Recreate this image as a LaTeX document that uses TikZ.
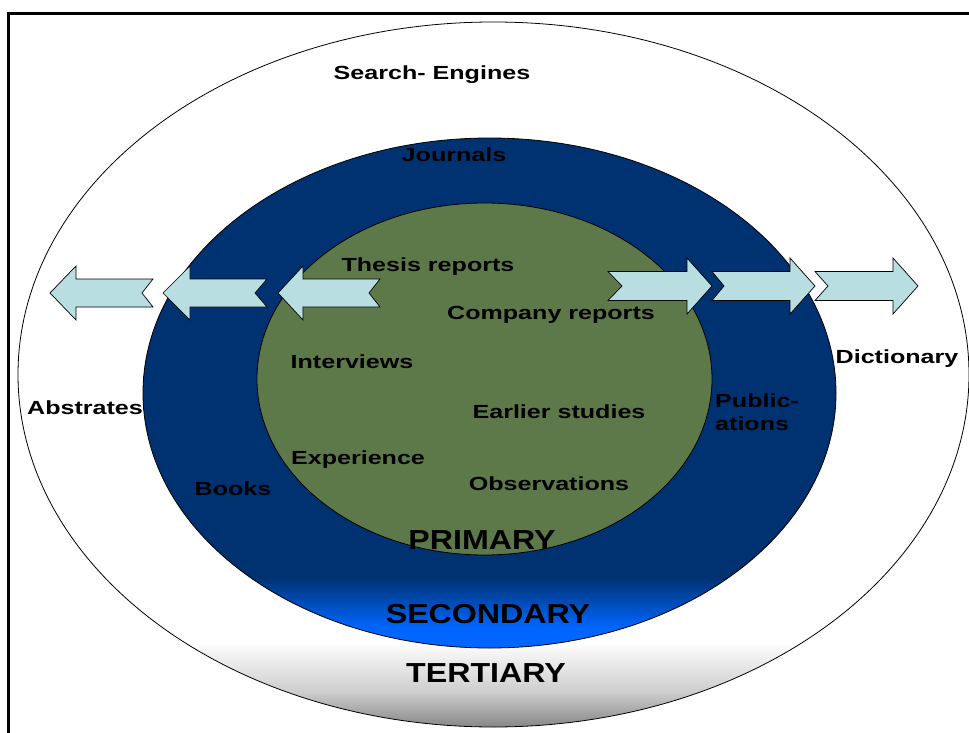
\documentclass[tikz,border=0pt]{standalone}
\usepackage{fontspec}
\newfontfamily\lblfont{Liberation Sans}[FakeStretch=1.32]
\newfontfamily\bigfont{Liberation Sans}[FakeStretch=1.17]
\definecolor{navy}{RGB}{0,49,112}
\definecolor{brightblue}{RGB}{0,102,255}
\definecolor{olive}{RGB}{94,121,73}
\definecolor{arrowfill}{RGB}{185,222,225}
\definecolor{tgray}{RGB}{135,135,135}
\definecolor{tlight}{RGB}{205,205,205}
\pgfdeclareverticalshading{tertshade}{100bp}{color(0bp)=(tgray); color(25bp)=(tgray); color(27.5bp)=(tlight); color(31bp)=(white); color(100bp)=(white)}
\pgfdeclareverticalshading{secshade}{100bp}{color(0bp)=(brightblue); color(25bp)=(brightblue); color(27bp)=(brightblue); color(32bp)=(navy); color(100bp)=(navy)}
\newcommand{\arrowLeft}[5]{%
  \draw[arr] (#1,#5) -- (#2,#5-27) -- (#2,#5-14) -- (#4,#5-14) -- (#3,#5) -- (#4,#5+14) -- (#2,#5+14) -- (#2,#5+27) -- cycle;}
\newcommand{\arrowRight}[5]{%
  \draw[arr] (#1,#5) -- (#2,#5-28) -- (#2,#5-14.5) -- (#4,#5-14.5) -- (#3,#5) -- (#4,#5+14.5) -- (#2,#5+14.5) -- (#2,#5+28) -- cycle;}
\tikzset{
  arr/.style={fill=arrowfill, draw=black, line width=0.7pt, line join=miter},
  lbl/.style={inner sep=0pt, font=\lblfont\bfseries\fontsize{19bp}{23bp}\selectfont, text=black},
  biglbl/.style={inner sep=0pt, font=\bigfont\bfseries\fontsize{27.5bp}{32bp}\selectfont, text=black},
  ring/.style={draw=black, line width=0.8pt}
}
\begin{document}
\begin{tikzpicture}[x=1bp, y=-1bp]
\useasboundingbox (0,0) rectangle (969,733);
% frame
\draw[line width=3.5bp] (8.5,740) -- (8.5,13.5) -- (975,13.5);
% tertiary ring
\shade[shading=tertshade] (493.5,374.5) ellipse [x radius=475.5, y radius=352.5];
\draw[ring] (493.5,374.5) ellipse [x radius=475.5, y radius=352.5];
% secondary ring
\shade[shading=secshade] (489.5,393) ellipse [x radius=346.5, y radius=255];
\draw[ring] (489.5,393) ellipse [x radius=346.5, y radius=255];
% primary
\filldraw[fill=olive, ring] (484.5,379) ellipse [x radius=227.5, y radius=176];
% arrows pointing left
\arrowLeft{50}{76}{142}{153}{293}
\arrowLeft{163}{190}{255}{267}{293}
\arrowLeft{278}{303}{369}{380}{293}
% arrows pointing right
\arrowRight{712}{687}{622}{608}{286}
\arrowRight{815}{790}{724}{712}{286}
\arrowRight{918}{893}{828}{815}{286}
% labels
\node[lbl] (search) at (432,75) {Search- Engines};
\node[lbl] (journals) at (454,155) {Journals};
\node[lbl] (thesis) at (428,267) {Thesis reports};
\node[lbl] (company) at (551,315) {Company reports};
\node[lbl] (interviews) at (352,362) {Interviews};
\node[lbl] (earlier) at (559,412) {Earlier studies};
\node[lbl] (experience) at (358,460) {Experience};
\node[lbl] (observations) at (549,484) {Observations};
\node[lbl] (books) at (233,489) {Books};
\node[lbl] (dictionary) at (897,359) {Dictionary};
\node[lbl] (abstrates) at (85,408) {Abstrates};
\node[lbl, align=left, anchor=west] (publications) at (715,412) {Public-\\ations};
\node[biglbl] (primary) at (482,540) {PRIMARY};
\node[biglbl] (secondary) at (488,614) {SECONDARY};
\node[biglbl] (tertiary) at (486,673) {TERTIARY};
\end{tikzpicture}
\end{document}
